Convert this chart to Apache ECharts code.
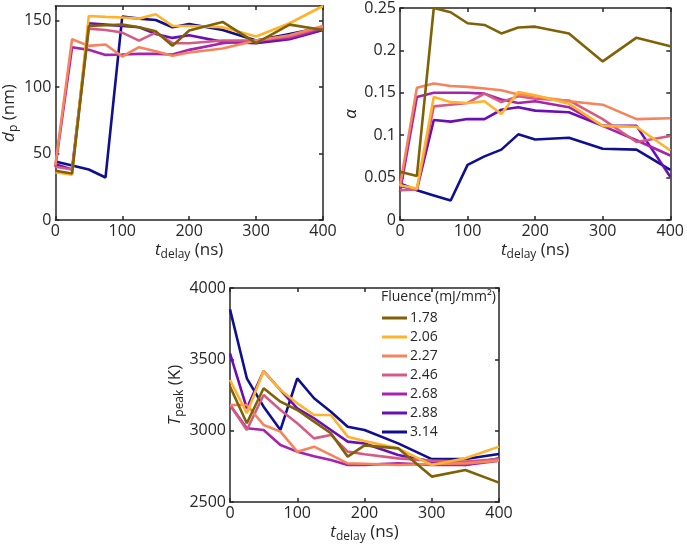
<!DOCTYPE html>
<html><head><meta charset="utf-8">
<script src="https://cdn.jsdelivr.net/npm/echarts@6/dist/echarts.min.js"></script>
<style>html,body{margin:0;padding:0;background:#fff}#c{width:687px;height:546px}</style>
</head><body><div id="c"></div>
<script>
// ---- data ----
const tDelay = [0, 25, 50, 75, 100, 125, 150, 175, 200, 250, 300, 350, 400];
const fluences = ['1.78', '2.06', '2.27', '2.46', '2.68', '2.88', '3.14'];
const colors = ['#7f6106', '#ffb32b', '#f5835b', '#d55b82', '#a623ae', '#6a0fb5', '#0f0f8f'];

// particle diameter d_p (nm)
const dp178 = [37, 35, 146, 146.5, 147, 145, 142, 131, 142.6, 149, 133, 147, 143];
const dp206 = [36, 34, 153.5, 152.8, 152.3, 151.5, 154.8, 146, 146, 145, 138, 148, 161];
const dp227 = [41, 136, 131, 132, 123, 130, 127, 123.5, 126, 129, 135, 139, 146];
const dp246 = [40, 38, 144, 143, 141, 135, 141, 133, 133, 135, 135, 138, 145];
const dp268 = [40, 130, 128, 124.2, 124.5, 125, 125, 124.5, 128, 133, 135, 137, 144];
const dp288 = [42, 38, 148, 147, 146, 145, 140, 137, 139, 134, 133, 136, 143];
const dp314 = [44, 41, 38, 32, 153, 151.5, 150.5, 145, 147.5, 143, 135, 140, 145];

// alpha
const al178 = [0.057, 0.052, 0.25, 0.245, 0.232, 0.23, 0.22, 0.227, 0.228, 0.22, 0.187, 0.215, 0.205];
const al206 = [0.041, 0.037, 0.145, 0.139, 0.138, 0.14, 0.125, 0.151, 0.147, 0.137, 0.111, 0.11, 0.082];
const al227 = [0.04, 0.156, 0.161, 0.158, 0.157, 0.155, 0.153, 0.148, 0.146, 0.14, 0.136, 0.119, 0.12];
const al246 = [0.035, 0.036, 0.134, 0.136, 0.138, 0.149, 0.139, 0.146, 0.143, 0.141, 0.119, 0.092, 0.099];
const al268 = [0.033, 0.145, 0.15, 0.15, 0.15, 0.149, 0.142, 0.138, 0.14, 0.133, 0.111, 0.094, 0.076];
const al288 = [0.04, 0.036, 0.118, 0.116, 0.119, 0.119, 0.13, 0.133, 0.129, 0.127, 0.111, 0.111, 0.051];
const al314 = [0.043, 0.035, 0.029, 0.023, 0.065, 0.075, 0.083, 0.101, 0.095, 0.097, 0.084, 0.083, 0.059];

// peak temperature (K)
const tp178 = [3309, 3052, 3297, 3203, 3145, 3063, 2982, 2818, 2897, 2876, 2678, 2724, 2636];
const tp206 = [3355, 3122, 3418, 3285, 3192, 3110, 3110, 2958, 2928, 2876, 2759, 2806, 2888];
const tp227 = [3180, 3180, 3040, 2993, 2853, 2888, 2830, 2771, 2768, 2759, 2766, 2771, 2790];
const tp246 = [3180, 3005, 3250, 3145, 3052, 2946, 2970, 2853, 2835, 2806, 2790, 2783, 2801];
const tp268 = [3180, 3017, 3005, 2900, 2853, 2820, 2795, 2760, 2760, 2771, 2760, 2760, 2790];
const tp288 = [3542, 3157, 3418, 3285, 3157, 3087, 3005, 2923, 2910, 2829, 2783, 2759, 2806];
const tp314 = [3850, 3367, 3168, 3005, 3367, 3227, 3133, 3028, 3005, 2911, 2801, 2801, 2836];

const dpSets = [dp178, dp206, dp227, dp246, dp268, dp288, dp314];
const alSets = [al178, al206, al227, al246, al268, al288, al314];
const tpSets = [tp178, tp206, tp227, tp246, tp268, tp288, tp314];

// ---- chart ----
const FONT = 'Open Sans';
const INK = '#262626';
const rich = {
  i: {fontFamily: FONT, fontSize: 17, fontStyle: 'italic', color: INK},
  s: {fontFamily: FONT, fontSize: 12, color: INK, padding: [9, 0, 0, 0]},
  n: {fontFamily: FONT, fontSize: 17, color: INK}
};
const xName = '{i|t}{s|delay}{n| (ns)}';

function xAx(g, top, name) {
  return {
    type: 'value', gridIndex: g, position: top ? 'top' : 'bottom',
    min: 0, max: 400, interval: 100,
    name: top ? '' : name, nameLocation: 'middle', nameGap: 20,
    nameTextStyle: {rich: rich},
    axisLine: {show: true, onZero: false, lineStyle: {color: INK, width: 1.5}},
    axisTick: {show: true, inside: true, length: 4, lineStyle: {color: INK, width: 1.5}},
    axisLabel: {show: !top, margin: 3, fontFamily: FONT, fontSize: 16, color: INK},
    splitLine: {show: false}
  };
}
function yAx(g, right, min, max, interval, name, gap) {
  return {
    type: 'value', gridIndex: g, position: right ? 'right' : 'left',
    min: min, max: max, interval: interval,
    name: right ? '' : name, nameLocation: 'middle', nameGap: gap, nameRotate: 90,
    nameTextStyle: {rich: rich},
    axisLine: {show: true, onZero: false, lineStyle: {color: INK, width: 1.5}},
    axisTick: {show: true, inside: true, length: 4, lineStyle: {color: INK, width: 1.5}},
    axisLabel: {show: !right, margin: 4, fontFamily: FONT, fontSize: 16, color: INK,
      formatter: v => String(v)},
    splitLine: {show: false}
  };
}

const series = [];
function addPanel(g, sets) {
  for (let k = sets.length - 1; k >= 0; k--) {
    series.push({
      name: fluences[k], type: 'line', xAxisIndex: 2 * g, yAxisIndex: 2 * g,
      data: tDelay.map((t, j) => [t, sets[k][j]]),
      symbol: 'none', lineStyle: {width: 2.6, color: colors[k]}, itemStyle: {color: colors[k]},
      animation: false
    });
  }
}
addPanel(0, dpSets);
addPanel(1, alSets);
addPanel(2, tpSets);

const dpAxisLeft = yAx(0, false, 0, 161, 50, '{i|d}{s|p}{n| (nm)}', 24);
dpAxisLeft.axisLabel.showMaxLabel = false;
const dpAxisRight = yAx(0, true, 0, 161, 50, '', 0);

const option = {
  backgroundColor: '#fff',
  animation: false,
  title: {text: 'Fluence (mJ/mm²)', left: 381, top: 290, padding: 0,
    textStyle: {fontFamily: FONT, fontSize: 14, fontWeight: 'normal', color: INK}},
  legend: {
    data: fluences, orient: 'vertical', left: 382, top: 311, padding: 0,
    icon: 'rect', itemWidth: 25, itemHeight: 3, itemGap: 5,
    textStyle: {fontFamily: FONT, fontSize: 14, color: INK, padding: [0, 0, 0, -2], lineHeight: 14},
    selectedMode: false
  },
  grid: [
    {left: 53, top: 6, width: 270, height: 214},
    {left: 400, top: 7, width: 271, height: 213},
    {left: 230, top: 288, width: 269, height: 214}
  ],
  xAxis: [xAx(0, false, xName), xAx(0, true), xAx(1, false, xName), xAx(1, true), xAx(2, false, xName), xAx(2, true)],
  yAxis: [
    dpAxisLeft, dpAxisRight,
    yAx(1, false, 0, 0.25, 0.05, '{i|α}', 40), yAx(1, true, 0, 0.25, 0.05, '', 0),
    yAx(2, false, 2500, 4000, 500, '{i|T}{s|peak}{n| (K)}', 42), yAx(2, true, 2500, 4000, 500, '', 0)
  ],
  series: series
};
const chart = echarts.init(document.getElementById('c'), null, {renderer: 'canvas'});
chart.setOption(option);
</script></body></html>
